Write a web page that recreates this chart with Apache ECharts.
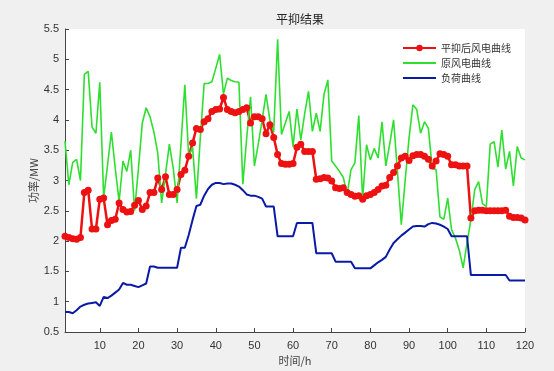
<!DOCTYPE html>
<html>
<head>
<meta charset="utf-8">
<script src="https://cdn.jsdelivr.net/npm/echarts@6/dist/echarts.min.js"></script>
<style>
html,body{margin:0;padding:0;background:#f0f0f0;}
#c{width:554px;height:371px;}
</style>
</head>
<body>
<div id="c"></div>
<script>
const hours = [1,2,3,4,5,6,7,8,9,10,11,12,13,14,15,16,17,18,19,20,
21,22,23,24,25,26,27,28,29,30,31,32,33,34,35,36,37,38,39,40,
41,42,43,44,45,46,47,48,49,50,51,52,53,54,55,56,57,58,59,60,
61,62,63,64,65,66,67,68,69,70,71,72,73,74,75,76,77,78,79,80,
81,82,83,84,85,86,87,88,89,90,91,92,93,94,95,96,97,98,99,100,
101,102,103,104,105,106,107,108,109,110,111,112,113,114,115,116,117,118,119,120];

const xTickLabels = [10,20,30,40,50,60,70,80,90,100,110,120];

const smoothedWind = [
2.08,2.06,2.04,2.03,2.06,2.80,2.84,2.20,2.20,2.69,
2.71,2.27,2.34,2.36,2.63,2.52,2.48,2.49,2.59,2.67,
2.52,2.58,2.80,2.80,3.04,2.85,3.06,2.77,2.77,2.85,
3.10,3.17,3.40,3.62,3.86,3.84,3.97,4.02,4.14,4.17,
4.18,4.37,4.17,4.14,4.12,4.14,4.17,4.20,3.95,4.05,
4.05,4.02,3.77,3.92,3.71,3.43,3.28,3.27,3.27,3.28,
3.55,3.60,3.48,3.48,3.48,3.02,3.03,3.05,3.04,2.99,
2.88,2.87,2.88,2.80,2.77,2.74,2.75,2.69,2.75,2.77,
2.80,2.85,2.91,2.92,3.05,3.13,3.24,3.37,3.40,3.33,
3.41,3.43,3.43,3.40,3.35,3.24,3.32,3.44,3.43,3.40,
3.26,3.26,3.24,3.24,3.24,2.38,2.50,2.51,2.51,2.50,
2.50,2.50,2.50,2.50,2.51,2.41,2.39,2.39,2.38,2.35];

const rawWind = [
3.65,2.93,3.30,3.35,3.00,4.75,4.80,3.88,3.78,4.62,
2.72,3.25,3.80,3.20,2.65,3.32,3.15,3.50,2.50,3.20,
3.95,4.20,4.05,3.80,3.45,2.63,3.10,3.60,3.20,2.63,
3.60,4.58,3.40,3.55,2.70,3.70,4.60,4.60,4.63,4.85,
5.08,4.43,4.69,4.65,4.63,4.62,2.94,3.70,4.38,3.24,
3.60,4.00,4.42,4.00,3.80,5.33,3.76,3.95,4.14,3.56,
4.18,3.67,4.10,4.47,3.81,4.11,3.81,4.42,4.66,3.32,
3.24,3.15,3.05,2.77,3.18,3.29,4.07,2.69,3.59,3.34,
3.53,3.37,3.97,3.24,3.60,4.00,3.15,2.27,3.00,3.70,
4.25,4.17,3.78,3.97,3.86,3.20,3.18,2.40,2.36,2.71,
2.19,2.05,1.85,1.56,1.97,2.35,2.85,2.98,2.62,2.57,
3.60,3.64,3.22,3.83,3.19,3.48,2.91,3.56,3.37,3.34];

const load = [
0.83,0.83,0.81,0.86,0.92,0.95,0.97,0.98,0.99,0.93,
1.08,1.06,1.10,1.15,1.20,1.31,1.28,1.28,1.26,1.24,
1.27,1.30,1.58,1.58,1.56,1.56,1.56,1.56,1.56,1.56,
1.89,1.89,2.10,2.35,2.58,2.60,2.75,2.86,2.93,2.96,
2.96,2.94,2.95,2.95,2.93,2.90,2.84,2.77,2.75,2.75,
2.73,2.70,2.57,2.57,2.57,2.08,2.08,2.08,2.08,2.08,
2.30,2.30,2.30,2.30,2.30,1.80,1.80,1.80,1.80,1.80,
1.66,1.66,1.66,1.66,1.66,1.55,1.55,1.55,1.55,1.55,
1.60,1.65,1.69,1.74,1.86,1.97,2.03,2.09,2.14,2.19,
2.24,2.25,2.25,2.24,2.28,2.30,2.29,2.27,2.24,2.20,
2.08,2.08,2.08,2.08,2.08,1.44,1.44,1.44,1.44,1.44,
1.44,1.44,1.44,1.44,1.44,1.35,1.35,1.35,1.35,1.35];

const seriesNames = ['平抑后风电曲线','原风电曲线','负荷曲线'];

const chart = echarts.init(document.getElementById('c'), null, {renderer:'canvas'});
const font = 'Liberation Sans, Arial, sans-serif';
const cjk = '"Noto Sans CJK SC", sans-serif';
const showTick = (idx, val) => xTickLabels.indexOf(Number(val)) >= 0;

chart.setOption({
  backgroundColor: '#f0f0f0',
  animation: false,
  title: {
    text: '平抑结果',
    left: 295, top: 8,
    textAlign: 'center',
    textStyle: {fontFamily: cjk, fontSize: 12, fontWeight: 'normal', color: '#222'}
  },
  legend: {
    orient: 'vertical',
    left: 397, top: 38,
    itemWidth: 33, itemHeight: 8, itemGap: 5,
    data: [
      {name: seriesNames[0]},
      {name: seriesNames[1], itemStyle: {opacity: 0}},
      {name: seriesNames[2], itemStyle: {opacity: 0}}
    ],
    textStyle: {fontFamily: cjk, fontSize: 10, color: '#333'}
  },
  grid: {
    left: 65, top: 29, right: 29, bottom: 38,
    show: true, backgroundColor: '#ffffff', borderWidth: 0
  },
  xAxis: {
    type: 'category',
    data: hours,
    boundaryGap: false,
    name: '时间/h',
    nameLocation: 'middle',
    nameGap: 23,
    nameMoveOverlap: false,
    nameTextStyle: {fontFamily: cjk, fontSize: 11, color: '#444'},
    axisLine: {lineStyle: {color: '#444', width: 1}},
    axisTick: {inside: true, length: 4, interval: showTick, lineStyle: {color: '#444'}},
    axisLabel: {interval: showTick, fontFamily: font, fontSize: 11, color: '#333', margin: 8},
    splitLine: {show: false}
  },
  yAxis: {
    type: 'value',
    min: 0.5, max: 5.5, interval: 0.5,
    name: '功率/MW',
    nameLocation: 'middle',
    nameGap: 26,
    nameMoveOverlap: false,
    nameRotate: 90,
    nameTextStyle: {fontFamily: cjk, fontSize: 11, color: '#444'},
    axisLine: {show: true, lineStyle: {color: '#444', width: 1}},
    axisTick: {show: true, inside: true, length: 4, lineStyle: {color: '#444'}},
    axisLabel: {fontFamily: font, fontSize: 11, color: '#333', margin: 6},
    splitLine: {show: false}
  },
  series: [
    {
      name: seriesNames[0], type: 'line', data: smoothedWind,
      symbol: 'circle', symbolSize: 7, showAllSymbol: true,
      itemStyle: {color: '#ee1111'},
      lineStyle: {color: '#ee1111', width: 2.5}
    },
    {
      name: seriesNames[1], type: 'line', data: rawWind,
      symbol: 'none',
      itemStyle: {color: '#2fdf2f'},
      lineStyle: {color: '#2fdf2f', width: 1.6}
    },
    {
      name: seriesNames[2], type: 'line', data: load,
      symbol: 'none',
      itemStyle: {color: '#0b1aa6'},
      lineStyle: {color: '#0b1aa6', width: 2}
    }
  ]
});
</script>
</body>
</html>
